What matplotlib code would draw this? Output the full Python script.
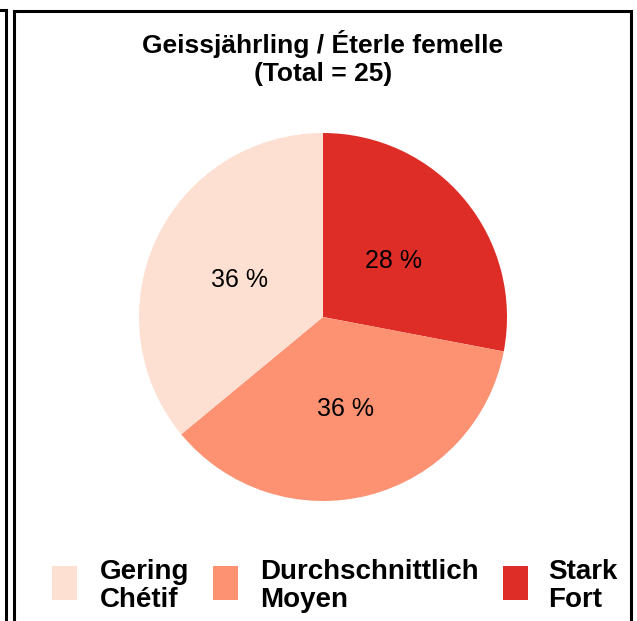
import matplotlib.pyplot as plt
from matplotlib.patches import Rectangle
from matplotlib.lines import Line2D

plt.rcParams['font.family'] = ['Liberation Sans', 'DejaVu Sans']

# data
categories = ['Stark\nFort', 'Durchschnittlich\nMoyen', 'Gering\nChétif']
counts = [7, 9, 9]
colors = ['#de2d26', '#fc9272', '#fee0d2']
title = 'Geissjährling / Éterle femelle\n(Total = 25)'

W, H = 637, 621
fig = plt.figure(figsize=(W/100, H/100), dpi=100)

# panel frame + neighbour panel edge
fig.add_artist(Rectangle((14/W, -0.05), (631-14)/W, (H-11)/H + 0.05, transform=fig.transFigure,
                         fill=False, lw=2.2, ec='black'))
fig.add_artist(Line2D([6.5/W, 6.5/W], [-0.05, (H-10)/H], transform=fig.transFigure, lw=2.2, color='black'))
fig.add_artist(Line2D([-0.01, 6.5/W], [(H-10)/H, (H-10)/H], transform=fig.transFigure, lw=2.2, color='black'))

cx, cy, r = 323, 317, 184
ax = fig.add_axes([(cx-r)/W, (H-cy-r)/H, 2*r/W, 2*r/H])
wedges, texts, autotexts = ax.pie(counts, colors=colors, startangle=90, counterclock=False,
                                  autopct=lambda p: '%d %%' % round(p), pctdistance=0.5,
                                  textprops={'fontsize': 18})
for t in autotexts:
    t.set_va('center_baseline')
ax.set_xlim(-1, 1)
ax.set_ylim(-1, 1)
ax.set_aspect('equal')

fig.text(323/W, 1 - 58/H, title, ha='center', va='center', fontsize=19, fontweight='bold', linespacing=1.2)

# legend in reference order
order = [2, 1, 0]
box_x = [52, 213, 503]
txt_x = [100, 260, 548]
for k, i in enumerate(order):
    fig.add_artist(Rectangle((box_x[k]/W, 1 - 600/H), 25/W, 34/H, transform=fig.transFigure,
                             fc=colors[i], ec='none'))
    fig.text(txt_x[k]/W, 1 - 586/H, categories[i], ha='left', va='center', fontsize=20,
             fontweight='bold', linespacing=1.1)

fig.savefig('out.png', dpi=100)
